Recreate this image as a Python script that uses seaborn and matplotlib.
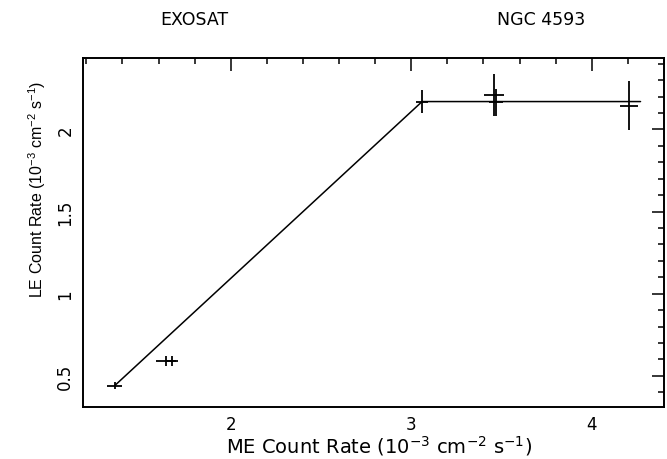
import matplotlib
matplotlib.use("Agg")
import matplotlib.pyplot as plt
import seaborn as sns
import numpy as np
import pandas as pd
from matplotlib.ticker import MultipleLocator

# data
me_rate = [1.357, 1.64, 1.677, 3.06, 3.457, 3.47, 4.205]
le_rate = [0.44, 0.59, 0.59, 2.17, 2.21, 2.165, 2.145]
me_err = [0.043, 0.055, 0.03, 0.035, 0.054, 0.04, 0.05]
le_err = [0.022, 0.03, 0.03, 0.07, 0.13, 0.08, 0.15]
model_x = [1.357, 3.06, 4.27]
model_y = [0.44, 2.17, 2.17]
x_ticks = [2, 3, 4]
y_ticks = [0.5, 1, 1.5, 2]
y_tick_labels = ["0.5", "1", "1.5", "2"]

sns.set_style("white")
plt.rcParams['font.family'] = ['DejaVu Sans']
plt.rcParams['text.color'] = 'black'
plt.rcParams['axes.labelcolor'] = 'black'
plt.rcParams['xtick.color'] = 'black'
plt.rcParams['ytick.color'] = 'black'
plt.rcParams['mathtext.default'] = 'regular'

fig = plt.figure(figsize=(6.67, 4.6), dpi=100)
ax = fig.add_axes([0.124, 0.113, 0.8715, 0.759])

model = pd.DataFrame({"x": model_x, "y": model_y})
sns.lineplot(data=model, x="x", y="y", ax=ax, color="black", lw=1.1, sort=False)
ax.errorbar(me_rate, le_rate, xerr=me_err, yerr=le_err, fmt="none",
            ecolor="black", elinewidth=1.3, capsize=0)

ax.set_xlim(1.18, 4.40)
ax.set_ylim(0.31, 2.436)
ax.set_xticks(x_ticks)
ax.set_xticklabels([str(t) for t in x_ticks])
ax.set_yticks(y_ticks)
ax.set_yticklabels(y_tick_labels, rotation=90, va="center")
ax.xaxis.set_minor_locator(MultipleLocator(0.2))
ax.yaxis.set_minor_locator(MultipleLocator(0.1))
ax.tick_params(which="both", direction="in", top=True, right=True,
               color="black", width=1.1)
ax.tick_params(which="major", length=9, labelsize=12, pad=6,
               labelcolor="black")
ax.tick_params(which="minor", length=4)
for s in ax.spines.values():
    s.set_color("black")
    s.set_linewidth(1.4)

ax.set_xlabel(r"ME Count Rate ($10^{-3}$ cm$^{-2}$ s$^{-1}$)", fontsize=14,
              color="black")
ax.set_ylabel(r"LE Count Rate ($10^{-3}$ cm$^{-2}$ s$^{-1}$)", fontsize=11.5,
              color="black", family=["Liberation Sans", "DejaVu Sans"])
ax.xaxis.set_label_coords(0.51, -0.075)
ax.yaxis.set_label_coords(-0.06, 0.625)

fig.text(0.291, 0.957, "EXOSAT", ha="center", va="center", fontsize=12.5,
         color="black")
fig.text(0.811, 0.957, "NGC 4593", ha="center", va="center", fontsize=12.5,
         color="black")

fig.savefig("out.png", dpi=100)
